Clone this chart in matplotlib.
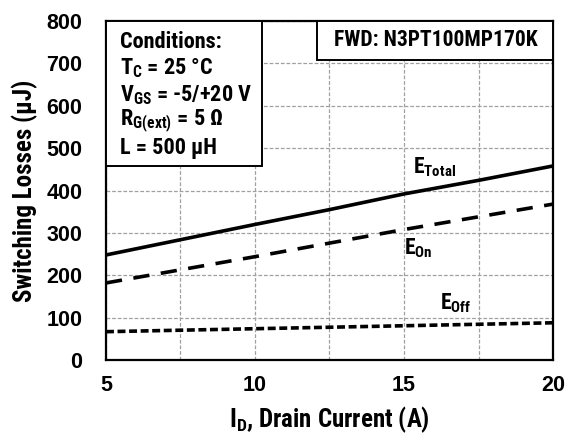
import matplotlib
matplotlib.use("Agg")
import matplotlib.pyplot as plt
from matplotlib.ticker import MultipleLocator

# data
current = [5, 7.5, 10, 12.5, 15, 17.5, 20]
e_total = [248, 284, 320, 355, 392, 424, 458]
e_on = [182, 213, 244, 276, 308, 338, 368]
e_off = [67, 70.5, 74, 77.5, 81, 84.5, 88]

narrow = "Roboto Condensed"
plt.rcParams["font.family"] = [narrow, "Liberation Sans", "DejaVu Sans"]
plt.rcParams["font.weight"] = "bold"
plt.rcParams["axes.labelweight"] = "bold"
plt.rcParams["mathtext.fontset"] = "custom"
plt.rcParams["mathtext.rm"] = narrow + ":weight=bold"
plt.rcParams["mathtext.bf"] = narrow + ":weight=bold"
plt.rcParams["mathtext.it"] = narrow + ":weight=bold"

fig = plt.figure(figsize=(5.68, 4.44), dpi=100)
ax = fig.add_axes([0.1866, 0.189, 0.787, 0.7637])

ax.plot(current, e_total, color="black", lw=2.6, solid_capstyle="butt")
ax.plot(current, e_on, color="black", lw=2.6, dashes=(4.5, 3.2))
ax.plot(current, e_off, color="black", lw=2.6, dashes=(2.2, 1.0))

ax.set_xlim(5, 20)
ax.set_ylim(0, 800)
ax.xaxis.set_major_locator(MultipleLocator(5))
ax.xaxis.set_minor_locator(MultipleLocator(2.5))
ax.yaxis.set_major_locator(MultipleLocator(100))
ax.grid(which="both", color="#a0a0a0", ls=(0, (3, 1.5)), lw=0.9)
ax.set_axisbelow(True)
ax.tick_params(which="both", length=0, pad=11)
ax.tick_params(axis="y", pad=17)
for lab in ax.get_xticklabels() + ax.get_yticklabels():
    lab.set_fontfamily("Liberation Sans")
    lab.set_fontweight("bold")
    lab.set_fontsize(15.5)
for s in ax.spines.values():
    s.set_linewidth(1.6)

ax.set_xlabel(r"I$_\mathbf{D}$, Drain Current (A)", fontsize=18, labelpad=6)
ax.set_ylabel("Switching Losses (µJ)", fontsize=18, labelpad=6)

# conditions box
ax.add_patch(plt.Rectangle((0, 0.572), 0.349, 0.428, transform=ax.transAxes,
                           facecolor="white", edgecolor="black", lw=1.4, zorder=4))
cond = ["Conditions:", r"T$_\mathbf{C}$ = 25 °C", r"V$_\mathbf{GS}$ = -5/+20 V",
        r"R$_\mathbf{G(ext)}$ = 5 Ω", "L = 500 µH"]
for i, t in enumerate(cond):
    ax.text(0.031, 0.938 - i * 0.078, t, transform=ax.transAxes, fontsize=16,
            va="center", ha="left", zorder=5)

# device box
ax.add_patch(plt.Rectangle((0.471, 0.885), 0.529, 0.115, transform=ax.transAxes,
                           facecolor="white", edgecolor="black", lw=1.4, zorder=4))
ax.text(0.737, 0.944, "FWD: N3PT100MP170K", transform=ax.transAxes, fontsize=15.5,
        ha="center", va="center", zorder=5)

ax.text(15.3, 455, r"E$_\mathbf{Total}$", fontsize=15.5, ha="left", va="center")
ax.text(15.0, 265, r"E$_\mathbf{On}$", fontsize=15.5, ha="left", va="center")
ax.text(16.2, 135, r"E$_\mathbf{Off}$", fontsize=15.5, ha="left", va="center")

fig.savefig("out.png", dpi=100)
